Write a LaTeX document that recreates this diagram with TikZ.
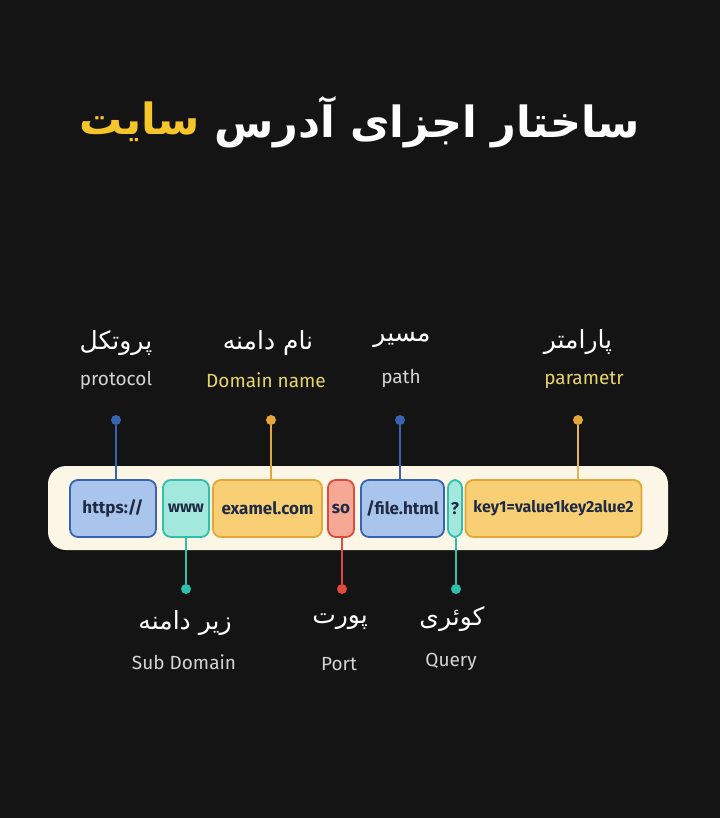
\documentclass[tikz,border=0pt]{standalone}
\usepackage{fontspec}
\setmainfont{Fira Sans}
\newfontfamily\fa[Script=Arabic]{DejaVu Sans}
\TeXXeTstate=1
\definecolor{bg}{HTML}{141414}
\definecolor{arcc}{HTML}{1D1D1D}
\definecolor{ttlY}{HTML}{F6C52A}
\definecolor{barC}{HTML}{FBF6E6}
\definecolor{bluF}{HTML}{AAC5EC}
\definecolor{bluD}{HTML}{3863AE}
\definecolor{tealF}{HTML}{A3E8DC}
\definecolor{tealD}{HTML}{2FBFAA}
\definecolor{yelF}{HTML}{F8CF74}
\definecolor{yelD}{HTML}{E2A73A}
\definecolor{redF}{HTML}{F5A896}
\definecolor{redD}{HTML}{DC4B3C}
\definecolor{txtD}{HTML}{1F2A44}
\definecolor{engG}{HTML}{D4D4D4}
\definecolor{engY}{HTML}{E6D46C}
\tikzset{
  part/.style={draw, line width=1.8pt, rounded corners=8pt, minimum height=57pt, inner sep=0pt,
     font=\fontsize{17}{20}\selectfont\bfseries, text=txtD},
  bluebox/.style={part, fill=bluF, draw=bluD},
  tealbox/.style={part, fill=tealF, draw=tealD},
  yelbox/.style={part, fill=yelF, draw=yelD},
  redbox/.style={part, fill=redF, draw=redD},
  dot/.style={circle, inner sep=0pt, minimum size=10pt},
  falbl/.style={text=white, font=\fa\fontsize{25}{28}\selectfont},
  enlbl/.style={font=\fontsize{19}{22}\selectfont},
  conn/.style={line width=1.6pt}
}
\begin{document}
\begin{tikzpicture}[x=1pt,y=-1pt]
\fill[bg] (0,0) rectangle (720,818);
\useasboundingbox (0,0) rectangle (720,818);
% faint background arcs
\draw[arcc, line width=1.5pt] (560,0) arc[start angle=180, end angle=270, x radius=160pt, y radius=-160pt];
\draw[arcc, line width=1.5pt] (640,0) arc[start angle=180, end angle=270, x radius=80pt, y radius=-80pt];
% title
\node[text=white, font=\fa\bfseries\fontsize{43}{50}\selectfont, anchor=east, inner sep=0pt] (title) at (640,122)
  {\beginR ساختار اجزای آدرس\endR};
\node[text=ttlY, font=\fa\bfseries\fontsize{43}{50}\selectfont, anchor=east, inner sep=0pt] (title2) at ([xshift=-14pt]title.west)
  {\beginR سایت\endR};
% bar
\node[fill=barC, rounded corners=18pt, minimum width=620pt, minimum height=84pt, inner sep=0pt] (bar) at (358,508) {};
% boxes
\node[bluebox, minimum width=86pt] (proto) at (113,508.5) {https://};
\node[tealbox, minimum width=46pt, font=\fontsize{16}{20}\selectfont\bfseries] (sub) at (186,508.5) {www};
\node[yelbox, minimum width=109pt] (dom) at (267.5,508.5) {examel.com};
\node[redbox, minimum width=26pt] (port) at (341,508.5) {so};
\node[bluebox, minimum width=83pt] (path) at (402.5,508.5) {/file.html};
\node[tealbox, minimum width=14pt] (query) at (455,508.5) {?};
\node[yelbox, minimum width=176pt, font=\fontsize{16}{20}\selectfont\bfseries] (param) at (553.5,508.5) {key1=value1key2alue2};
% top dots
\node[dot, fill=bluD] (dproto) at (116,420) {};
\node[dot, fill=yelD] (ddom) at (271,420) {};
\node[dot, fill=bluD] (dpath) at (400,420) {};
\node[dot, fill=yelD] (dparam) at (578,420) {};
\draw[conn, bluD] (dproto) -- (dproto |- proto.north);
\draw[conn, yelD] (ddom) -- (ddom |- dom.north);
\draw[conn, bluD] (dpath) -- (dpath |- path.north);
\draw[conn, yelD!85!white] (dparam) -- (dparam |- param.north);
% bottom dots
\node[dot, fill=tealD] (dsub) at (186,589) {};
\node[dot, fill=redD] (dport) at (342,589) {};
\node[dot, fill=tealD] (dquery) at (456,589) {};
\draw[conn, tealD] (sub.south) -- (dsub);
\draw[conn, redD] (port.south -| dport) -- (dport);
\draw[conn, tealD] (query.south -| dquery) -- (dquery);
% top labels
\node[falbl] (lproto) at (116,343) {\beginR پروتکل\endR};
\node[enlbl, text=engG] (eproto) at (116,380) {protocol};
\node[falbl] (ldom) at (268,343) {\beginR نام دامنه\endR};
\node[enlbl, text=engY] (edom) at (266,380) {Domain name};
\node[falbl] (lpath) at (402,340) {\beginR مسیر\endR};
\node[enlbl, text=engG] (epath) at (401,378) {path};
\node[falbl] (lparam) at (578,342) {\beginR پارامتر\endR};
\node[enlbl, text=engY] (eparam) at (584,380) {parametr};
% bottom labels
\node[falbl] (lsub) at (185,623) {\beginR زیر دامنه\endR};
\node[enlbl, text=engG] (esub) at (184,662) {Sub Domain};
\node[falbl] (lport) at (340,622) {\beginR پورت\endR};
\node[enlbl, text=engG] (eport) at (339,664) {Port};
\node[falbl] (lquery) at (452,619) {\beginR کوئری\endR};
\node[enlbl, text=engG] (equery) at (451,662) {Query};
\end{tikzpicture}
\end{document}
